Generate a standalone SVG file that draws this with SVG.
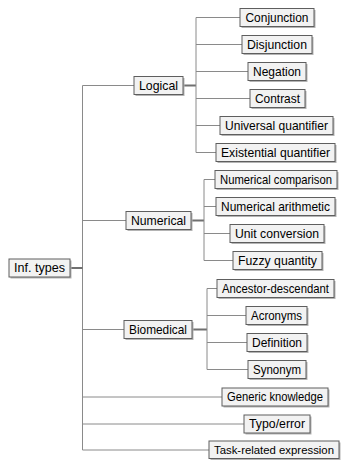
<svg xmlns="http://www.w3.org/2000/svg" width="342" height="461" viewBox="0 0 342 461">
<defs>
<style>
.sh{fill:#b4b4b4}
.bx{fill:#f2f2f2;stroke:#5e5e5e;stroke-width:1}
.t{font-family:"Liberation Sans",Arial,sans-serif;font-size:12.2px;fill:#000;text-anchor:middle;dominant-baseline:central}
.e{fill:none;stroke:#8a8a8a;stroke-width:1}
.s{fill:none;stroke:#707070;stroke-width:2}
</style>
</defs>
<rect width="342" height="461" fill="#fff"/>
<g id="connectors">
<path class="e" d="M82.5 85.5V450M82.5 85.5H134M82.5 220.5H126M82.5 329.5H124M82.5 397H222M82.5 424H244M82.5 450H209"/>
<path class="s" d="M70 268H82.5M183 85.5H196M191 220.5H204M192 329.5H207"/>
<path class="e" d="M196 17.5V152.5M196 17.5H240M196 44.5H242M196 71.5H248M196 98.5H250M196 125.5H220M196 152.5H216"/>
<path class="e" d="M204 179.5V260.5M204 179.5H215M204 206.5H216M204 233.5H230M204 260.5H233"/>
<path class="e" d="M207 288.5V369.5M207 288.5H217M207 315.5H246M207 342.5H247M207 369.5H248"/>
</g>
<g id="inf-types"><rect class="sh" x="10.5" y="260.5" width="61" height="18"/><rect class="bx" x="9" y="259" width="61" height="18"/><text class="t" x="39.5" y="268" textLength="51" lengthAdjust="spacingAndGlyphs">Inf. types</text></g>
<g id="logical"><rect class="sh" x="135.5" y="78" width="49" height="18"/><rect class="bx" x="134" y="76.5" width="49" height="18"/><text class="t" x="158.5" y="85.5" textLength="39" lengthAdjust="spacingAndGlyphs">Logical</text></g>
<g id="conjunction"><rect class="sh" x="241.5" y="10" width="74" height="18"/><rect class="bx" x="240" y="8.5" width="74" height="18"/><text class="t" x="277" y="17.5" textLength="63" lengthAdjust="spacingAndGlyphs">Conjunction</text></g>
<g id="disjunction"><rect class="sh" x="243.5" y="37" width="70" height="18"/><rect class="bx" x="242" y="35.5" width="70" height="18"/><text class="t" x="277" y="44.5" textLength="60" lengthAdjust="spacingAndGlyphs">Disjunction</text></g>
<g id="negation"><rect class="sh" x="249.5" y="64" width="58" height="18"/><rect class="bx" x="248" y="62.5" width="58" height="18"/><text class="t" x="277" y="71.5" textLength="48" lengthAdjust="spacingAndGlyphs">Negation</text></g>
<g id="contrast"><rect class="sh" x="251.5" y="91" width="55" height="18"/><rect class="bx" x="250" y="89.5" width="55" height="18"/><text class="t" x="277.5" y="98.5" textLength="45" lengthAdjust="spacingAndGlyphs">Contrast</text></g>
<g id="universal"><rect class="sh" x="221.5" y="118" width="113" height="18"/><rect class="bx" x="220" y="116.5" width="113" height="18"/><text class="t" x="276.5" y="125.5" textLength="103" lengthAdjust="spacingAndGlyphs">Universal quantifier</text></g>
<g id="existential"><rect class="sh" x="217.5" y="145" width="119" height="18"/><rect class="bx" x="216" y="143.5" width="119" height="18"/><text class="t" x="275.5" y="152.5" textLength="109" lengthAdjust="spacingAndGlyphs">Existential quantifier</text></g>
<g id="numerical"><rect class="sh" x="127.5" y="213" width="65" height="18"/><rect class="bx" x="126" y="211.5" width="65" height="18"/><text class="t" x="158.5" y="220.5" textLength="55" lengthAdjust="spacingAndGlyphs">Numerical</text></g>
<g id="num-comparison"><rect class="sh" x="216.5" y="172" width="122" height="18"/><rect class="bx" x="215" y="170.5" width="122" height="18"/><text class="t" x="276" y="179.5" textLength="112" lengthAdjust="spacingAndGlyphs">Numerical comparison</text></g>
<g id="num-arithmetic"><rect class="sh" x="217.5" y="199" width="119" height="18"/><rect class="bx" x="216" y="197.5" width="119" height="18"/><text class="t" x="275.5" y="206.5" textLength="109" lengthAdjust="spacingAndGlyphs">Numerical arithmetic</text></g>
<g id="unit-conversion"><rect class="sh" x="231.5" y="226" width="94" height="18"/><rect class="bx" x="230" y="224.5" width="94" height="18"/><text class="t" x="277" y="233.5" textLength="84" lengthAdjust="spacingAndGlyphs">Unit conversion</text></g>
<g id="fuzzy-quantity"><rect class="sh" x="234.5" y="253" width="89" height="18"/><rect class="bx" x="233" y="251.5" width="89" height="18"/><text class="t" x="277.5" y="260.5" textLength="79" lengthAdjust="spacingAndGlyphs">Fuzzy quantity</text></g>
<g id="biomedical"><rect class="sh" x="125.5" y="322" width="68" height="18"/><rect class="bx" x="124" y="320.5" width="68" height="18"/><text class="t" x="158" y="329.5" textLength="58" lengthAdjust="spacingAndGlyphs">Biomedical</text></g>
<g id="ancestor"><rect class="sh" x="218.5" y="281" width="117" height="18"/><rect class="bx" x="217" y="279.5" width="117" height="18"/><text class="t" x="275.5" y="288.5" textLength="107" lengthAdjust="spacingAndGlyphs">Ancestor-descendant</text></g>
<g id="acronyms"><rect class="sh" x="247.5" y="308" width="61" height="18"/><rect class="bx" x="246" y="306.5" width="61" height="18"/><text class="t" x="276.5" y="315.5" textLength="51" lengthAdjust="spacingAndGlyphs">Acronyms</text></g>
<g id="definition"><rect class="sh" x="248.5" y="335" width="60" height="18"/><rect class="bx" x="247" y="333.5" width="60" height="18"/><text class="t" x="277" y="342.5" textLength="50" lengthAdjust="spacingAndGlyphs">Definition</text></g>
<g id="synonym"><rect class="sh" x="249.5" y="362" width="58" height="18"/><rect class="bx" x="248" y="360.5" width="58" height="18"/><text class="t" x="277" y="369.5" textLength="48" lengthAdjust="spacingAndGlyphs">Synonym</text></g>
<g id="generic"><rect class="sh" x="223.5" y="389.5" width="106" height="18"/><rect class="bx" x="222" y="388" width="106" height="18"/><text class="t" x="275" y="397" textLength="96" lengthAdjust="spacingAndGlyphs">Generic knowledge</text></g>
<g id="typo"><rect class="sh" x="245.5" y="416.5" width="66" height="18"/><rect class="bx" x="244" y="415" width="66" height="18"/><text class="t" x="277" y="424" textLength="56" lengthAdjust="spacingAndGlyphs">Typo/error</text></g>
<g id="task-related"><rect class="sh" x="210.5" y="442.5" width="130" height="17.5"/><rect class="bx" x="209" y="441" width="130" height="17.5"/><text class="t" x="274" y="449.8" style="font-size:11.3px" textLength="120" lengthAdjust="spacingAndGlyphs">Task-related expression</text></g>
</svg>
